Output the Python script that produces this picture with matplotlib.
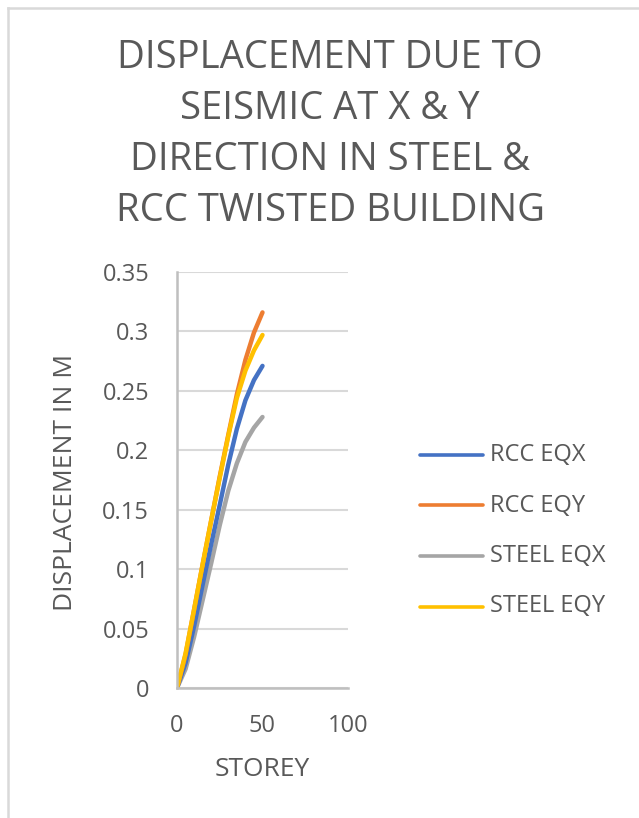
import numpy as np
from matplotlib import pyplot as plt
from matplotlib.lines import Line2D

# storey numbers and displacement (m)
storey = [0, 5, 10, 15, 20, 25, 30, 35, 40, 45, 50]
rcc_eqx = [0, 0.021, 0.052, 0.087, 0.121, 0.154, 0.188, 0.218, 0.242, 0.259, 0.271]
rcc_eqy = [0, 0.028, 0.066, 0.104, 0.141, 0.178, 0.213, 0.247, 0.276, 0.299, 0.316]
steel_eqx = [0, 0.016, 0.043, 0.074, 0.105, 0.137, 0.166, 0.189, 0.207, 0.219, 0.228]
steel_eqy = [0, 0.029, 0.066, 0.104, 0.141, 0.177, 0.212, 0.244, 0.267, 0.284, 0.297]

labels = ["RCC EQX", "RCC EQY", "STEEL EQX", "STEEL EQY"]
colors = ["#4472c4", "#ed7d31", "#a5a5a5", "#ffc000"]
x_ticks = [0, 50, 100]
y_ticks = [0, 0.05, 0.1, 0.15, 0.2, 0.25, 0.3, 0.35]

TEXT = "#595959"
W, H = 639, 818

plt.rcParams["font.family"] = ["Open Sans", "DejaVu Sans"]

fig = plt.figure(figsize=(W / 100, H / 100), dpi=100)
ax = fig.add_axes([177 / W, 1 - 688 / H, (348 - 177) / W, (688 - 272) / H])

# plot order so yellow sits above orange like the reference
order = [2, 0, 1, 3]
all_series = [rcc_eqx, rcc_eqy, steel_eqx, steel_eqy]
for i in order:
    ax.plot(storey, all_series[i], color=colors[i], lw=3.2,
            solid_capstyle="round", solid_joinstyle="round", label=labels[i])

ax.set_xlim(0, 100)
ax.set_ylim(0, 0.35)
ax.set_xticks(x_ticks)
ax.set_xticklabels([f"{t:g}" for t in x_ticks])
ax.set_yticks(y_ticks)
ax.set_yticklabels([f"{t:g}" for t in y_ticks])
ax.grid(axis="y", color="#d9d9d9", lw=1.5)
ax.set_axisbelow(True)
for side in ["top", "right"]:
    ax.spines[side].set_visible(False)
for side in ["left", "bottom"]:
    ax.spines[side].set_color("#bfbfbf")
    ax.spines[side].set_linewidth(1.8)
ax.tick_params(length=0, labelsize=17, colors=TEXT)
ax.tick_params(axis="y", pad=20)
ax.tick_params(axis="x", pad=19)

fig.text(262 / W, 1 - 769 / H, "STOREY", fontsize=19, color=TEXT,
         ha="center", va="center")
fig.text(66 / W, 1 - 482 / H, "DISPLACEMENT IN M", fontsize=19, color=TEXT,
         ha="center", va="center", rotation=90)

title_lines = ["DISPLACEMENT DUE TO", "SEISMIC AT X & Y",
               "DIRECTION IN STEEL &", "RCC TWISTED BUILDING"]
for k, line in enumerate(title_lines):
    fig.text(330 / W, 1 - (58 + 51 * k) / H, line, fontsize=27.5, color=TEXT,
             ha="center", va="center")

# legend drawn by hand to match spacing
for k in range(4):
    y = 1 - (455 + 50.5 * k) / H
    fig.add_artist(Line2D([420 / W, 483 / W], [y, y], color=colors[k], lw=2.6,
                          solid_capstyle="round"))
    fig.text(490 / W, y, labels[k], fontsize=17, color=TEXT, ha="left",
             va="center")

# chart frame (left and top edges visible in the crop)
fig.add_artist(Line2D([8 / W, 8 / W], [0, 1 - 8 / H], color="#d9d9d9", lw=1.8))
fig.add_artist(Line2D([8 / W, 1], [1 - 8 / H, 1 - 8 / H], color="#d9d9d9", lw=1.8))

fig.savefig("out.png", dpi=100)
